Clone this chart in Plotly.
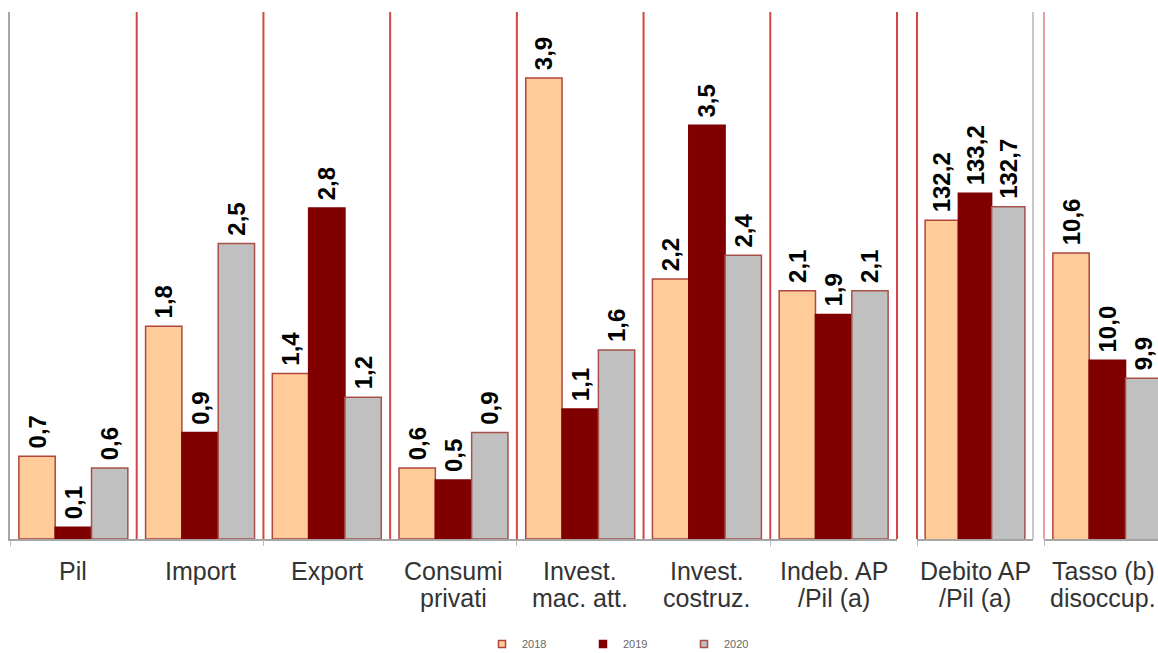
import plotly.graph_objects as go

# ---- data -------------------------------------------------------------
years = ["2018", "2019", "2020"]

# growth-type indicators (shared scale)
main_keys = ["Pil", "Import", "Export", "Consumi privati", "Invest. mac. att.",
             "Invest. costruz.", "Indeb. AP /Pil (a)"]
main_line1 = ["Pil", "Import", "Export", "Consumi", "Invest.", "Invest.", "Indeb. AP"]
main_line2 = ["", "", "", "privati", "mac. att.", "costruz.", "/Pil (a)"]
main_2018 = [0.7, 1.8, 1.4, 0.6, 3.9, 2.2, 2.1]
main_2019 = [0.1, 0.9, 2.8, 0.5, 1.1, 3.5, 1.9]
main_2020 = [0.6, 2.5, 1.2, 0.9, 1.6, 2.4, 2.1]

# public debt / GDP
debt_keys = ["Debito AP /Pil (a)"]
debt_line1 = ["Debito AP"]
debt_line2 = ["/Pil (a)"]
debt_2018 = [132.2]
debt_2019 = [133.2]
debt_2020 = [132.7]

# unemployment rate
unemp_keys = ["Tasso (b) disoccup."]
unemp_line1 = ["Tasso (b)"]
unemp_line2 = ["disoccup."]
unemp_2018 = [10.6]
unemp_2019 = [10.0]
unemp_2020 = [9.9]

# ---- styling ----------------------------------------------------------
W, H = 1158, 653
FILL = {"2018": "#FFCC99", "2019": "#800000", "2020": "#C0C0C0"}
EDGE = {"2018": "#B0453E", "2019": "#800000", "2020": "#A8504A"}
FONT = "Arial, 'Liberation Sans', sans-serif"
SEP_RED = "#D64545"
AXIS_GREY = "#A6A6A6"


def px_x(p):
    return p / W


def px_y(p):
    return 1 - p / H


plot_top, plot_bottom = 12, 539
y_dom = [px_y(plot_bottom), px_y(plot_top)]

fig = go.Figure()

panels = [
    ("x", "y", main_keys, [main_2018, main_2019, main_2020]),
    ("x2", "y2", debt_keys, [debt_2018, debt_2019, debt_2020]),
    ("x3", "y3", unemp_keys, [unemp_2018, unemp_2019, unemp_2020]),
]

for xa, ya, keys, series in panels:
    for yr, vals in zip(years, series):
        fig.add_trace(go.Bar(
            x=keys, y=vals, name=yr, xaxis=xa, yaxis=ya,
            marker=dict(color=FILL[yr], line=dict(color=EDGE[yr], width=1.5)),
            texttemplate="<b>\u2009%{y:.1f}</b>", textposition="outside",
            textangle=-90, cliponaxis=False, constraintext="none",
            textfont=dict(family=FONT, size=24, color="#000000"),
            showlegend=False, offsetgroup=yr,
        ))

# legend keys
for yr in years:
    fig.add_trace(go.Scatter(
        x=[None], y=[None], mode="markers", name=yr,
        marker=dict(symbol="square", size=7, color=FILL[yr],
                    line=dict(color=EDGE[yr], width=1.5)),
        showlegend=True,
    ))

# ---- axes -------------------------------------------------------------
X1_L, X1_R = 10, 897
X2_L, X2_R = 917, 1033
X3_L = 1044
x1_dom = [px_x(X1_L), px_x(X1_R)]
x2_dom = [px_x(X2_L), px_x(X2_R)]
x3_dom = [px_x(X3_L), 1.0]
cat_px = (X1_R - X1_L) / 7
x3_span = (W - X3_L) / cat_px

common_x = dict(type="category", showline=True, linecolor=AXIS_GREY, linewidth=1.5,
                showticklabels=False, showgrid=False, zeroline=False,
                ticks="outside", ticklen=5, tickcolor="#BBBBBB", tickson="boundaries",
                fixedrange=True, automargin=False)
common_y = dict(showticklabels=False, showgrid=False, zeroline=False, showline=False,
                ticks="", fixedrange=True, automargin=False)

fig.update_layout(
    xaxis=dict(common_x, domain=x1_dom, range=[-0.5, 6.5], anchor="y", dtick=2),
    xaxis2=dict(common_x, domain=x2_dom, range=[-0.5, 0.5], anchor="y2"),
    xaxis3=dict(common_x, domain=x3_dom, range=[-0.5, -0.5 + x3_span], anchor="y3"),
    yaxis=dict(common_y, domain=y_dom, range=[0, (plot_bottom - plot_top) / 118.2],
               anchor="x", showline=True, linecolor=AXIS_GREY, linewidth=2),
    yaxis2=dict(common_y, domain=y_dom, range=[120.39, 120.39 + (plot_bottom - plot_top) / 27.0],
                anchor="x2"),
    yaxis3=dict(common_y, domain=y_dom, range=[9.0, 9.0 + (plot_bottom - plot_top) / 178.7],
                anchor="x3"),
)

# ---- separators -------------------------------------------------------
shapes = []
for i in range(len(main_keys) - 1):
    shapes.append(dict(type="line", xref="x", yref="y domain", x0=i + 0.5, x1=i + 0.5,
                       y0=0, y1=1, line=dict(color=SEP_RED, width=2), layer="above"))


def vline(xpx, color):
    return dict(type="line", xref="paper", yref="paper", x0=px_x(xpx), x1=px_x(xpx),
                y0=y_dom[0], y1=y_dom[1], line=dict(color=color, width=2), layer="above")


shapes.append(vline(X1_R, SEP_RED))
shapes.append(vline(X2_L, SEP_RED))
shapes.append(vline(X2_R, "#C8C8C8"))
shapes.append(vline(X3_L, "#EAA0A0"))

# ---- category labels --------------------------------------------------
annotations = []
for xa, keys, l1, l2, shift in [("x", main_keys, main_line1, main_line2, 0),
                                ("x2", debt_keys, debt_line1, debt_line2, 0),
                                ("x3", unemp_keys, unemp_line1, unemp_line2, -4)]:
    for k, a, b in zip(keys, l1, l2):
        for txt, ypx in ((a, 571), (b, 598)):
            if txt:
                annotations.append(dict(
                    x=k, xref=xa, y=px_y(ypx), yref="paper", text=txt, showarrow=False,
                    xanchor="center", yanchor="middle", xshift=shift,
                    font=dict(family=FONT, size=25, color="#333333")))

fig.update_layout(
    width=W, height=H,
    margin=dict(l=0, r=0, t=0, b=0, autoexpand=False),
    paper_bgcolor="white", plot_bgcolor="white",
    barmode="group", bargap=0.14, bargroupgap=0,
    separators=",.",
    shapes=shapes, annotations=annotations,
    showlegend=True,
    legend=dict(orientation="h", x=px_x(482), xanchor="left", y=px_y(644), yanchor="middle",
                font=dict(family=FONT, size=11, color="#666666"),
                itemwidth=30, entrywidth=56, entrywidthmode="pixels",
                bgcolor="rgba(0,0,0,0)", itemclick=False),
    template="none",
)

fig.write_html("out.html")
